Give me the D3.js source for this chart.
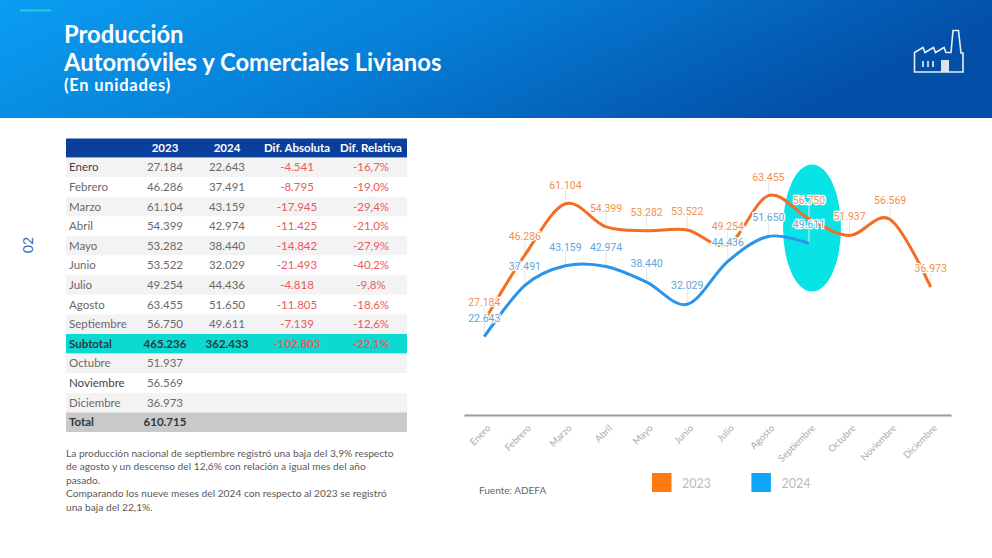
<!DOCTYPE html>
<html>
<head>
<meta charset="utf-8">
<script src="https://cdn.jsdelivr.net/npm/d3@7"></script>
<style>
html, body { margin: 0; padding: 0; background: #fff; }
svg { display: block; }
text { font-family: Lato, sans-serif; }
</style>
</head>
<body>
<div id="chart"></div>
<script>
const months = ["Enero", "Febrero", "Marzo", "Abril", "Mayo", "Junio", "Julio", "Agosto", "Septiembre", "Octubre", "Noviembre", "Diciembre"];
const values2023 = [27184, 46286, 61104, 54399, 53282, 53522, 49254, 63455, 56750, 51937, 56569, 36973];
const values2024 = [22643, 37491, 43159, 42974, 38440, 32029, 44436, 51650, 49611];
const difAbsoluta = [-4541, -8795, -17945, -11425, -14842, -21493, -4818, -11805, -7139];
const difRelativa = [-16.7, -19.0, -29.4, -21.0, -27.9, -40.2, -9.8, -18.6, -12.6];
const subtotal = ["Subtotal", 465236, 362433, -102803, -22.1];
const total = ["Total", 610715];
const tableHeaders = ["", "2023", "2024", "Dif. Absoluta", "Dif. Relativa"];
const titleLines = ["Producción", "Automóviles y Comerciales Livianos"];
const subtitle = "(En unidades)";
const note = [
	"La producción nacional de septiembre registró una baja del 3,9% respecto",
	"de agosto y un descenso del 12,6% con relación a igual mes del año",
	"pasado.",
	"Comparando los nueve meses del 2024 con respecto al 2023 se registró",
	"una baja del 22,1%."
];
const seriesNames = ["2023", "2024"];

const locale = d3.formatLocale({ decimal: ",", thousands: ".", grouping: [3], currency: ["", ""], minus: "-" });
const fmtInt = locale.format(",d");
const fmtPct = v => locale.format(".1f")(v) + "%";

const svg = d3.select("#chart").append("svg").attr("width", 992).attr("height", 558);

const drawHeader = () => {
	const grad = svg.append("defs").append("linearGradient").attr("id", "head")
		.attr("x1", "0%").attr("y1", "0%").attr("x2", "100%").attr("y2", "25%");
	grad.append("stop").attr("offset", "0%").attr("stop-color", "#0a9df2");
	grad.append("stop").attr("offset", "45%").attr("stop-color", "#0680d8");
	grad.append("stop").attr("offset", "100%").attr("stop-color", "#034ea6");
	svg.append("rect").attr("width", 992).attr("height", 118).attr("fill", "url(#head)");
	svg.append("rect").attr("x", 20).attr("y", 9.5).attr("width", 31).attr("height", 2).attr("fill", "#1fd0dc");

	svg.selectAll(".title").data(titleLines).join("text")
		.attr("class", "title")
		.attr("x", 64).attr("y", (d, i) => 43 + i * 27.5)
		.attr("fill", "#fff").attr("font-size", 23.8).attr("font-weight", 700)
		.text(d => d);
	svg.append("text").attr("x", 64).attr("y", 91).attr("fill", "#fff")
		.attr("font-size", 16.5).attr("font-weight", 700).attr("letter-spacing", 0.75).text(subtitle);

	const icon = svg.append("g").attr("fill", "none").attr("stroke", "#e8eef6").attr("stroke-width", 1.6);
	icon.append("path").attr("d", "M914.5,72V52.5L923,47.5L925,52.5L933.5,47.5L935.5,52.5L944,47.5L946,52.5H951L953,30.5H958.5L961,53H963V72Z");
	icon.selectAll(".win").data([923, 928, 933]).join("line")
		.attr("x1", d => d).attr("x2", d => d).attr("y1", 61).attr("y2", 67);
	svg.append("rect").attr("x", 941).attr("y", 60).attr("width", 8).attr("height", 12).attr("fill", "#dfe3e8");

	svg.append("text").attr("transform", "translate(33,245) rotate(-90)")
		.attr("text-anchor", "middle").attr("fill", "#2d6db5").attr("font-size", 14).text("02");
};

const drawTable = () => {
	const colX = [69, 165, 227, 297, 371];
	const rowH = 19.6;
	const top = 157.6;
	const rows = months.map((m, i) => ({
		name: m,
		cells: [values2023[i], values2024[i], difAbsoluta[i], difRelativa[i]]
	}));
	rows.splice(9, 0, { name: subtotal[0], cells: subtotal.slice(1), kind: "sub" });
	rows.push({ name: total[0], cells: [total[1]], kind: "total" });

	svg.append("rect").attr("x", 66).attr("y", 138.5).attr("width", 341).attr("height", 19.2).attr("fill", "#0a3f9c");
	svg.selectAll(".th").data(tableHeaders).join("text")
		.attr("class", "th")
		.attr("x", (d, i) => colX[i]).attr("y", 151.5)
		.attr("text-anchor", "middle").attr("fill", "#fff")
		.attr("font-size", 11.5).attr("font-weight", 700)
		.text(d => d);

	const row = svg.selectAll(".row").data(rows).join("g")
		.attr("class", "row")
		.attr("transform", (d, i) => `translate(0,${top + i * rowH})`);
	row.append("rect").attr("x", 66).attr("width", 341).attr("height", rowH)
		.attr("fill", (d, i) => d.kind === "sub" ? "#0bd9d2" : d.kind === "total" ? "#c9c9c9" : i % 2 === 0 ? "#f3f3f3" : "#fff");
	row.append("text").attr("x", colX[0]).attr("y", 13.8)
		.attr("font-size", 11.5)
		.attr("font-weight", d => d.kind ? 700 : 400)
		.attr("fill", d => d.kind ? "#2c3a40" : d.name === "Enero" || d.name === "Noviembre" ? "#444" : "#6a6a6a")
		.text(d => d.name);
	row.selectAll(".cell")
		.data(d => d.cells.map((v, i) => ({ v, i, kind: d.kind })).filter(c => c.v !== undefined))
		.join("text")
		.attr("class", "cell")
		.attr("x", d => colX[d.i + 1]).attr("y", 13.8)
		.attr("text-anchor", "middle").attr("font-size", 11.5)
		.attr("font-weight", d => d.kind ? 700 : 400)
		.attr("fill", d => d.i > 1 ? "#ea5a5a" : d.kind ? "#2c3a40" : "#6a6a6a")
		.text(d => d.i === 3 ? fmtPct(d.v) : fmtInt(d.v));

	svg.selectAll(".note").data(note).join("text")
		.attr("class", "note")
		.attr("x", 66).attr("y", (d, i) => 457 + i * 13.4)
		.attr("fill", "#5a5a5a").attr("font-size", 10.2)
		.text(d => d);
};

const drawChart = () => {
	const x = d3.scaleBand().domain(months).range([464, 951]);
	const y = d3.scaleLinear().domain([0, 70000]).range([415, 173]);
	const px = m => x(m) + x.bandwidth() / 2;
	const series = [
		{ name: seriesNames[0], values: values2023, line: "#f26e22", label: "#f0914f" },
		{ name: seriesNames[1], values: values2024, line: "#2b94e8", label: "#5fa5de" }
	];

	svg.append("ellipse").attr("cx", 812).attr("cy", 228).attr("rx", 29).attr("ry", 63.5).attr("fill", "#08e4e6");

	const line = d3.line().x((d, i) => px(months[i])).y(d => y(d)).curve(d3.curveCardinal.tension(0));

	series.forEach(s => {
		svg.append("g").selectAll("line").data(s.values).join("line")
			.attr("x1", (d, i) => px(months[i])).attr("x2", (d, i) => px(months[i]))
			.attr("y1", d => y(d)).attr("y2", d => y(d) - 16)
			.attr("stroke", "#e4e4e4").attr("stroke-width", 1);
	});
	series.forEach(s => {
		svg.append("path").datum(s.values)
			.attr("fill", "none").attr("stroke", s.line).attr("stroke-width", 3)
			.attr("d", line);
	});
	series.forEach(s => {
		svg.append("g").selectAll("text").data(s.values).join("text")
			.attr("x", (d, i) => px(months[i])).attr("y", d => y(d) - 15)
			.attr("text-anchor", "middle").attr("fill", s.label)
			.style("font-family", "Roboto, sans-serif").attr("font-size", 10.5)
			.attr("stroke", "#fff").attr("stroke-width", 2.5).attr("paint-order", "stroke")
			.text(d => fmtInt(d));
	});

	const axis = svg.append("g").attr("transform", "translate(0,415)")
		.call(d3.axisBottom(x).tickSize(0).tickPadding(0));
	axis.select(".domain").attr("stroke", "#999").attr("stroke-width", 2);
	axis.selectAll("text")
		.attr("text-anchor", "end").attr("fill", "#aaa").attr("font-size", 9.5)
		.style("font-family", "Lato, sans-serif")
		.attr("transform", "translate(2,9) rotate(-45)");

	svg.selectAll(".swatch").data(series).join("rect")
		.attr("class", "swatch")
		.attr("x", (d, i) => 652 + i * 99.4).attr("y", 473).attr("width", 19.5).attr("height", 19)
		.attr("fill", (d, i) => ["#ff7a10", "#10a6f8"][i]);
	svg.selectAll(".legend").data(series).join("text")
		.attr("class", "legend")
		.attr("x", (d, i) => 682 + i * 99.4).attr("y", 488)
		.attr("fill", "#bbb").attr("font-size", 12.5)
		.text(d => d.name);

	svg.append("text").attr("x", 479).attr("y", 494).attr("fill", "#666").attr("font-size", 10).text("Fuente: ADEFA");
};

drawHeader();
drawTable();
drawChart();
</script>
</body>
</html>
